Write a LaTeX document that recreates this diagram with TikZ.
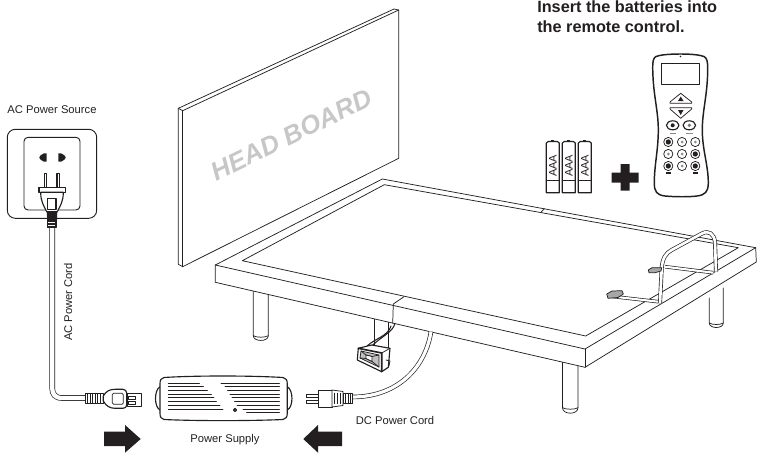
\documentclass[tikz,border=0pt]{standalone}
\usepackage{fontspec}
\setmainfont{Liberation Sans}
\usetikzlibrary{calc}
\definecolor{inkc}{HTML}{231F20}
\tikzset{
	ln/.style={draw=inkc,line width=0.55pt,line join=round,line cap=round},
	thk/.style={draw=inkc,line width=0.85pt,line join=round,line cap=round},
	hair/.style={draw=inkc,line width=0.35pt},
	cord/.style={draw=inkc,line width=0.5pt,double=white,double distance=#1,line cap=butt},
	lbl/.style={text=inkc,inner sep=0pt,font=\fontsize{8.4}{10}\selectfont},
	solidblk/.style={fill=inkc,draw=none}
}
\newcommand{\prleg}[6]{\draw[ln,fill=white] (#1,#2) -- (#1,#5) .. controls (#1,#6) and (#3,#6) .. (#3,#5) -- (#3,#4);
	\draw[ln] (#1,#5) .. controls ($(#1,#5)+(3,2)$) and ($(#3,#5)+(-3,2)$) .. (#3,#5);}
\newcommand{\prvent}[3]{\draw[thk,line width=0.7pt] (#2,#1) -- (#3,#1);}
\newcommand{\prbat}[2]{\draw[thk,fill=white] (#1,143) -- ($(#1,143)+(2,-1.5)$) -- ($(#1,143)+(11,-1.5)$) -- ($(#1,143)+(13,0)$) -- ($(#1,192.7)+(13,0)$) -- (#1,192.7) -- cycle;
	\draw[ln] (#1,180.5) -- ($(#1,180.5)+(13,0)$);
	\draw[ln,fill=inkc] ($(#1,141.5)+(5.5,0)$) rectangle ($(#1,140.2)+(7.5,0)$);
	\node[lbl,rotate=90] (#2) at ($(#1,166)+(6.5,0)$) {\fontsize{8.2}{10}\selectfont AAA};}
\newcommand{\prbtn}[2]{\draw[ln] (#1,#2) circle[radius=4.6];
	\fill[black!45] (#1,#2) circle[radius=1.5];}
\newcommand{\prdark}[2]{\draw[ln] (#1,#2) circle[radius=4.6];
	\fill[inkc] (#1,#2) circle[radius=2.6];}
\begin{document}
\begin{tikzpicture}[x=0.75pt,y=-0.75pt]
	\useasboundingbox (0,0) rectangle (767,453);
	
	% head board
	\draw[ln] (178.3,108.3) -- (394,9) -- (398.7,10) -- (398.7,158.3) -- (182.7,266.7) -- (178.3,264.3) -- cycle;
	\draw[ln] (178.3,108.3) -- (182.7,110.7) -- (398.7,10);
	\draw[ln] (182.7,110.7) -- (182.7,266.7);
	\node[inner sep=0pt,rotate=26,text=black!22,font=\fontsize{19.5}{20}\bfseries\itshape\selectfont] (headboard) at (291.5,135) {HEAD BOARD};
	
	% legs
	\prleg{253.3}{290}{268.3}{292}{335.7}{342}
	\prleg{374.3}{318}{388.7}{320}{352}{352}
	\prleg{562.5}{360}{578}{362}{407.7}{415}
	\prleg{709.3}{298}{723.3}{288}{323}{329}
	
	% bed frame
	\coordinate (LL) at (215.3,265);
	\coordinate (BK) at (382.3,179);
	\coordinate (RR) at (755.7,247.7);
	\coordinate (FR) at (585,349);
	\draw[ln,fill=white] (LL) -- (BK) -- (RR) -- (756.3,262) -- (585,367.3) -- (215.3,282.3) -- cycle;
	\draw[ln] (LL) -- (FR) -- (RR);
	\draw[ln] (FR) -- (585,367.3);
	\draw[ln] (242.3,260.7) -- (384.3,184.7) -- (738.3,247.7) -- (585.7,336) -- cycle;
	\draw[ln] (404,296.7) -- (393.3,304) -- (392.7,323.3);
	\draw[ln] (544.3,208.7) -- (541,212.3);
	
	% head rail
	\draw[cord=1.6pt] (608.3,296) -- (658.3,301.7);
	\draw[cord=1.6pt] (665,266.7) -- (713.3,272.7);
	\draw[cord=2pt] (660,303.3) -- (661.7,268) .. controls (662.5,258) and (666,253) .. (671.7,250) -- (702,233.5) .. controls (709,230) and (714,234) .. (715,242) -- (716,271.7);
	\draw[ln,fill=black!35] (606.7,294) -- (612,291) -- (622,290.7) -- (623.3,294) -- (618,297.5) -- (608,298.3) -- cycle;
	\draw[ln,fill=black!35] (648.3,270) -- (652,267.7) -- (661.7,267.7) -- (661,271) -- (655,272.7) -- (649,272.7) -- cycle;
	
	% motor box and wires
	\draw[ln,line width=0.8pt] (395,323.3) .. controls (393,332) and (382,336) .. (371.7,346);
	\draw[ln,line width=0.8pt] (391,326) .. controls (388,336) and (376,338) .. (367,346);
	\draw[thk,fill=white] (358.3,348.3) -- (371.7,345) -- (390,348.3) -- (388.3,367.3) -- (381.7,371.7) -- (357.3,360) -- cycle;
	\draw[thk,line width=1.2pt] (358.3,348.3) -- (381.7,353) -- (381.7,371.7);
	\draw[ln] (381.7,353) -- (390,348.3);
	\draw[ln,fill=black!25] (361,351) -- (379,355) -- (379,367) -- (360,358) -- cycle;
	\draw[ln] (361,351) -- (366,355) -- (372,356.5) -- (379,355);
	\draw[ln] (360,358) -- (366,358.5) -- (372,361.5) -- (379,367);
	\draw[ln,fill=white] (366,355) -- (372,356.5) -- (372,361.5) -- (366,358.5) -- cycle;
	\draw[ln] (386,360) -- (390,361) -- (389,366);
	
	% ac socket
	\draw[thk,rounded corners=6pt,line width=0.7pt] (7.3,129.3) rectangle (96.7,218.3);
	\draw[thk,rounded corners=3pt,line width=0.7pt] (24,137.3) rectangle (80,210);
	\path[solidblk] (46.7,153.3) -- (46.7,161.7) -- (44,161.7) .. controls (41,160) and (39,159) .. (39.3,157.5) .. controls (39,156) and (41,155) .. (44,153.3) -- cycle;
	\path[solidblk] (58.3,153.3) -- (58.3,161.7) -- (61,161.7) .. controls (64,160) and (66,159) .. (65.7,157.5) .. controls (66,156) and (64,155) .. (61,153.3) -- cycle;
	
	% ac plug
	\draw[thk,fill=white] (44.3,173.3) rectangle (46.6,187.3);
	\draw[thk,fill=white] (57,173.3) rectangle (59.6,187.3);
	\draw[thk,fill=white] (39,187.3) rectangle (65.7,192.3);
	\draw[thk,fill=white] (40.7,192.3) -- (63.3,192.3) .. controls (63.3,202) and (60,206) .. (57.3,211.7) -- (46.7,211.7) .. controls (44,206) and (40.7,202) .. (40.7,192.3) -- cycle;
	\draw[thk] (47.7,198.3) rectangle (56,209.3);
	\draw[cord=3.2pt] (52.2,226) -- (52.2,388) .. controls (52.2,394) and (55,398) .. (62,398) -- (85,398);
	\path[solidblk] (46.7,211.7) -- (57.3,211.7) -- (57,220) -- (47.2,220) -- cycle;
	\draw[thk,fill=white] (47.7,220) rectangle (56,227.3);
	\foreach \hy in {221.5,223.2,224.9,226.3} {\draw[ln,line width=0.8pt] (47.7,\hy) -- (56,\hy);}
	
	% ac plug at power supply
	\draw[ln,fill=white] (85,393.3) rectangle (103.3,403.3);
	\foreach \hx in {87.5,90,92.5,95,97.5,100} {\draw[hair] (\hx,393.3) -- (\hx,403.3);}
	\draw[thk,fill=white] (103.3,396) .. controls (106,391) and (110,389.3) .. (115,389.3) -- (123,389.3) .. controls (125,389.3) and (126.7,391) .. (126.7,393) -- (126.7,405) .. controls (126.7,407) and (125,408.3) .. (123,408.3) -- (115,408.3) .. controls (110,408.3) and (106,406) .. (103.3,401) -- cycle;
	\draw[ln,rounded corners=1pt] (112.3,393.3) rectangle (123.3,404.3);
	\draw[ln,fill=white] (127.3,393.3) rectangle (141.7,406.7);
	\draw[ln] (128.5,396) rectangle (135,399);
	\draw[ln] (128.5,401) rectangle (135,404);
	
	% power supply
	\draw[thk,fill=white] (160,386.7) .. controls (154,390) and (154,407) .. (160,410);
	\draw[thk,fill=white] (287.3,386.7) .. controls (293.5,390) and (293.5,407) .. (287.3,410);
	\draw[thk,fill=white] (164,377.5) .. controls (195,375.5) and (250,375.5) .. (283,377.5) .. controls (286,378) and (287.3,380) .. (287.3,384) -- (287.3,413) .. controls (287.3,417) and (286,419) .. (283,419.5) .. controls (250,421) and (195,421) .. (164,419.5) .. controls (161,419) and (160,417) .. (160,413) -- (160,384) .. controls (160,380) and (161,378) .. (164,377.5) -- cycle;
	\prvent{383.3}{168.3}{199.5}
	\prvent{386.7}{168.3}{203.5}
	\prvent{390}{168.3}{207.5}
	\prvent{394}{168.3}{211.5}
	\prvent{397.3}{168.3}{214}
	\prvent{401}{168.3}{216.5}
	\prvent{405}{168.3}{220}
	\prvent{409}{168.3}{223}
	\prvent{383.3}{221}{279.3}
	\prvent{386.7}{225}{279.3}
	\prvent{390}{227.5}{279.3}
	\prvent{394}{230}{279.3}
	\prvent{397.3}{232}{279.3}
	\prvent{401}{234.5}{279.3}
	\prvent{405}{237}{279.3}
	\prvent{409}{243}{279.3}
	\prvent{412.3}{246.5}{279.3}
	\draw[thk] (235,410) circle[radius=1.5];
	
	% dc cord and plug
	\draw[cord=2.4pt] (431,331.5) .. controls (426,365) and (400,397) .. (352,397);
	\draw[ln,fill=white] (306,394.7) -- (318,394.7) -- (318,396.9) -- (306,396.9) -- cycle;
	\draw[ln,fill=white] (306,400.7) -- (318,400.7) -- (318,402.9) -- (306,402.9) -- cycle;
	\draw[ln,fill=white] (318,390.5) -- (332,390.5) -- (332,407) -- (318,407) -- cycle;
	\draw[ln,fill=white] (332,390) -- (343,391.5) -- (343,405.5) -- (332,407) -- cycle;
	\draw[ln,fill=white] (343,393) rectangle (352.5,403);
	\foreach \hx in {334.5,337.5,340.5,345.5,348,350.5} {\draw[hair] (\hx,392.5) -- (\hx,404);}
	
	% batteries
	\prbat{546.3}{batone}
	\prbat{562.3}{battwo}
	\prbat{578.3}{batthree}
	
	% plus
	\path[solidblk] (620.7,164) -- (629.7,164) -- (629.7,172.7) -- (638.7,172.7) -- (638.7,182.7) -- (629.7,182.7) -- (629.7,190.7) -- (620.7,190.7) -- (620.7,182.7) -- (611.7,182.7) -- (611.7,172.7) -- (620.7,172.7) -- cycle;
	
	% remote
	\draw[thk,line width=1.1pt] (680.5,54) .. controls (668,54) and (660,55) .. (656,56.5) .. controls (653,58) and (652.7,62) .. (652.7,68) .. controls (653,95) and (658.3,110) .. (658.3,130) .. controls (658.3,150) and (654.3,165) .. (654.3,183) .. controls (654.3,192) and (657,195) .. (665,196) .. controls (675,197) and (690,197) .. (697,196) .. controls (705,195) and (708.3,192) .. (708.3,183) .. controls (708.3,165) and (702.3,150) .. (702.3,130) .. controls (702.3,110) and (707.7,95) .. (707.7,68) .. controls (707.7,62) and (707,58) .. (704,56.5) .. controls (700,55) and (692,54) .. (680.5,54) -- cycle;
	\fill[inkc] (680.5,56.5) circle[radius=0.9];
	\draw[ln] (661.3,63.3) rectangle (699,84);
	\draw[ln] (680.7,93.3) -- (691.7,102) -- (691.7,103.3) -- (670,103.3) -- (670,102) -- cycle;
	\draw[ln] (680.7,118.3) -- (691.7,109) -- (691.7,107.7) -- (670,107.7) -- (670,109) -- cycle;
	\path[solidblk] (680.7,96.5) -- (683.5,101) -- (678,101) -- cycle;
	\path[solidblk] (680.7,115) -- (683.5,110) -- (678,110) -- cycle;
	\draw[thk] (672.7,125.3) ellipse[x radius=6.3,y radius=4.5];
	\draw[thk] (689.3,125.3) ellipse[x radius=6.3,y radius=4.5];
	\fill[inkc] (672.7,125.3) circle[radius=2];
	\fill[black!55] (689.3,125.3) circle[radius=1.8];
	\draw[black!45,line width=0.5pt] (670,133) -- (675.5,133);
	\draw[black!45,line width=0.5pt] (686,133) -- (692.5,133);
	\prdark{668.3}{142}
	\prbtn{682}{142}
	\prbtn{695.3}{142}
	\prbtn{668.3}{154}
	\prbtn{682}{154}
	\prdark{695.3}{154}
	\prdark{668.3}{166}
	\prbtn{682}{166}
	\prdark{695.3}{166}
	\fill[inkc] (665.5,172) rectangle (671,174);
	\fill[inkc] (692.5,172) rectangle (698,174);
	
	% arrows
	\path[solidblk] (104,431.7) -- (125,431.7) -- (125,425) -- (140.7,439) -- (125,452.7) -- (125,446) -- (104,446) -- cycle;
	\path[solidblk] (342,431.7) -- (318,431.7) -- (318,425) -- (303.3,439) -- (318,452.7) -- (318,446) -- (342,446) -- cycle;
	
	% labels
	\node[lbl] (acsource) at (52,110) {AC Power Source};
	\node[lbl,rotate=90] (accord) at (68,302) {AC Power Cord};
	\node[lbl] (supply) at (225,440) {Power Supply};
	\node[lbl] (dccord) at (395,420) {DC Power Cord};
	\node[lbl,anchor=north west,align=left,font=\fontsize{12.2}{15}\bfseries\selectfont] (title) at (537,0) {Insert the batteries into\\the remote control.};
\end{tikzpicture}
\end{document}
